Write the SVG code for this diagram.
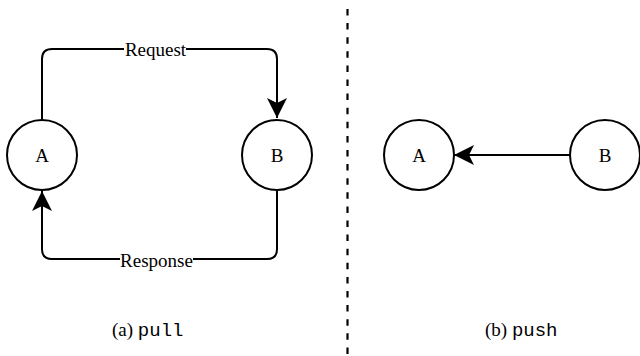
<svg xmlns="http://www.w3.org/2000/svg" width="640" height="356" viewBox="0 0 640 356">
  <style>
    .node { fill: #ffffff; stroke: #000000; stroke-width: 2; }
    .edge { fill: none; stroke: #000000; stroke-width: 2; }
  </style>
  <defs>
    <marker id="arrow" viewBox="0 0 20 20" refX="20" refY="10" markerWidth="20" markerHeight="20" markerUnits="userSpaceOnUse" orient="auto">
      <path d="M0,0 L20,10 L0,20 L5,10 Z" fill="#000000"/>
    </marker>
  </defs>

  <!-- divider -->
  <line x1="347.5" y1="9" x2="347.5" y2="356" stroke="#000000" stroke-width="2.2" stroke-dasharray="6.5 7.6"/>

  <!-- connectors -->
  <g id="connectors" font-family="Liberation Serif, Times New Roman, serif" font-size="19" text-anchor="middle">
    <path class="edge" d="M42,119 L42,59 Q42,49 52,49 L267,49 Q277,49 277,59 L277,118" marker-end="url(#arrow)"/>
    <path class="edge" d="M277,191 L277,249 Q277,259 267,259 L52,259 Q42,259 42,249 L42,191" marker-end="url(#arrow)"/>
    <path class="edge" d="M570,155 L454,155" marker-end="url(#arrow)"/>
    <rect x="124" y="40" width="62" height="18" fill="#ffffff"/>
    <text x="155.5" y="55.5">Request</text>
    <rect x="120" y="250" width="73" height="18" fill="#ffffff"/>
    <text x="156.5" y="266.5">Response</text>
  </g>

  <g font-family="Liberation Serif, Times New Roman, serif" font-size="19" text-anchor="middle">
    <!-- pull: nodes -->
    <g id="pull-a">
      <circle class="node" cx="42" cy="155" r="35"/>
      <text x="42" y="161.5">A</text>
    </g>
    <g id="pull-b">
      <circle class="node" cx="277" cy="155" r="35"/>
      <text x="277" y="161.5">B</text>
    </g>

    <!-- push: nodes -->
    <g id="push-a">
      <circle class="node" cx="419" cy="155" r="35"/>
      <text x="419" y="161.5">A</text>
    </g>
    <g id="push-b">
      <circle class="node" cx="605" cy="155" r="35"/>
      <text x="605" y="161.5">B</text>
    </g>
  </g>

  <!-- captions -->
  <g font-family="Liberation Serif, Times New Roman, serif" font-size="19">
    <text x="112" y="336">(a) <tspan font-family="Liberation Mono, Courier New, monospace">pull</tspan></text>
    <text x="485" y="336">(b) <tspan font-family="Liberation Mono, Courier New, monospace">push</tspan></text>
  </g>
</svg>
